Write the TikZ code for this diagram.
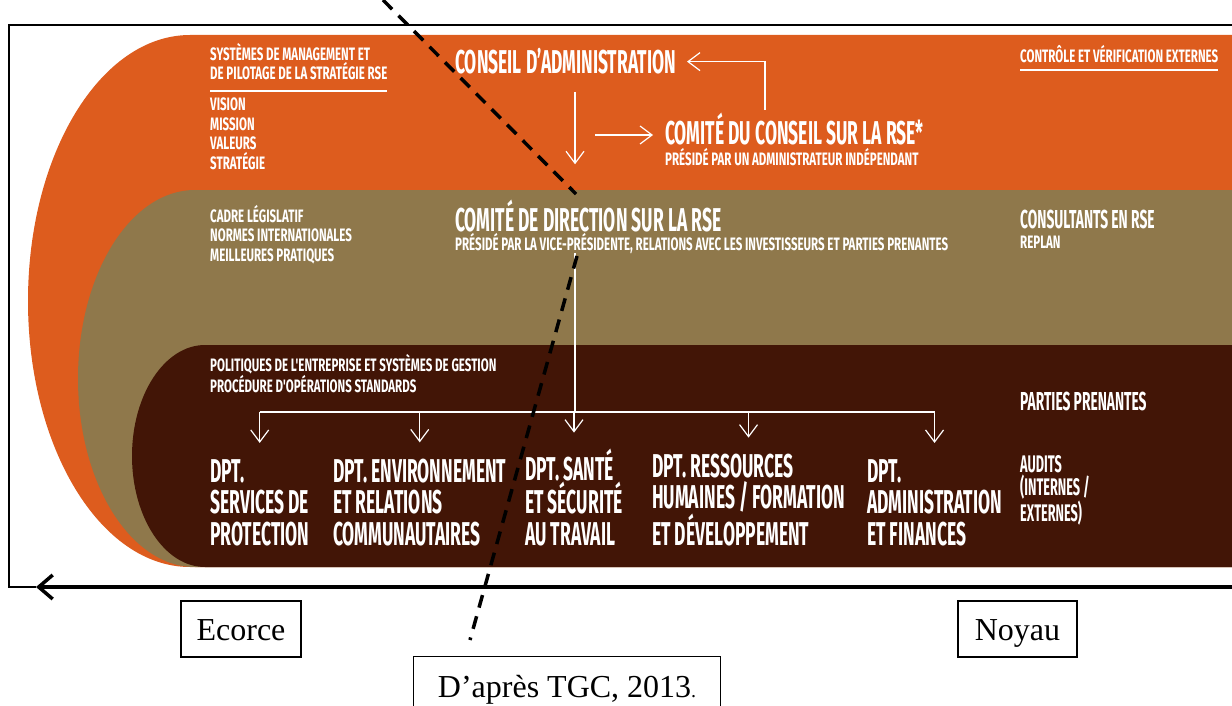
\documentclass[tikz,border=0pt]{standalone}
\usepackage{fontspec}
\setmainfont{Liberation Serif}
\newfontfamily\rsebig[FakeStretch=0.53]{Fira Sans}
\newfontfamily\rsesmall[FakeStretch=0.64]{Fira Sans}
\usetikzlibrary{arrows.meta,positioning,calc}
\definecolor{rseorange}{HTML}{DD5C1E}
\definecolor{rsetan}{HTML}{8F784B}
\definecolor{rsedark}{HTML}{421506}
\newcommand{\petit}{\rsesmall\bfseries\fontsize{18}{19.5}\selectfont}
\newcommand{\moyen}{\rsebig\bfseries\fontsize{26}{23}\selectfont}
\newcommand{\audit}{\rsebig\bfseries\fontsize{24}{23}\selectfont}
\newcommand{\grand}{\rsebig\bfseries\fontsize{33}{31.5}\selectfont}

\begin{document}
\begin{tikzpicture}[x=1pt,y=-1pt,>={Straight Barb[length=12pt,width=18pt]},
  lbl/.style={text=white,inner sep=0pt,anchor=base west,align=left},
  flow/.style={white,line width=1.2pt},
  boite/.style={draw,line width=1.2pt,inner sep=0pt,minimum height=56pt,
    text height=22pt,text depth=0pt,font=\fontsize{32}{32}\selectfont}]
  \clip (0,0) rectangle (1232,706);
  % Bands
  \fill[rseorange] (1240,35) -- (190,35)
    arc[start angle=90,end angle=270,x radius=162pt,y radius=266pt] -- (1240,567) -- cycle;
  \fill[rsetan] (1240,190) -- (195,190)
    arc[start angle=90,end angle=270,x radius=117pt,y radius=188.5pt] -- (1240,567) -- cycle;
  \fill[rsedark] (1240,345) -- (205,345)
    arc[start angle=90,end angle=270,x radius=73pt,y radius=111pt] -- (1240,567) -- cycle;
  % Orange band (multi-line nodes sit on their last baseline)
  \node[lbl,font=\petit] (smgt) at (210,80) {SYSTÈMES DE MANAGEMENT ET\\DE PILOTAGE DE LA STRATÉGIE RSE};
  \draw[white,line width=1.5pt] (210,91) -- (387,91);
  \node[lbl,font=\petit] (vmvs) at (210,169) {VISION\\MISSION\\VALEURS\\STRATÉGIE};
  \node[lbl,font=\grand] (ca) at (455,74) {CONSEIL D’ADMINISTRATION};
  \node[lbl,font=\grand] (ccrse) at (665,145) {COMITÉ DU CONSEIL SUR LA RSE*};
  \node[lbl,font=\petit] (ccsub) at (665,165) {PRÉSIDÉ PAR UN ADMINISTRATEUR INDÉPENDANT};
  \node[lbl,font=\petit] (ctrl) at (1020,63) {CONTRÔLE ET VÉRIFICATION EXTERNES};
  \draw[white,line width=1.5pt] ([yshift=-7pt]ctrl.base west) -- ([yshift=-7pt]ctrl.base east);
  % Tan band
  \node[lbl,font=\petit] (legal) at (210,261) {CADRE LÉGISLATIF\\NORMES INTERNATIONALES\\MEILLEURES PRATIQUES};
  \node[lbl,font=\grand] (cd) at (455,231) {COMITÉ DE DIRECTION SUR LA RSE};
  \node[lbl,font=\petit] (cdsub) at (455,250) {PRÉSIDÉ PAR LA VICE-PRÉSIDENTE, RELATIONS AVEC LES INVESTISSEURS ET PARTIES PRENANTES};
  \node[lbl,font=\moyen] (consult) at (1020,228) {CONSULTANTS EN RSE};
  \node[lbl,font=\petit] (replan) at (1020,248) {REPLAN};
  % Dark band
  \node[lbl,font=\petit] (polit) at (210,392) {POLITIQUES DE L'ENTREPRISE ET SYSTÈMES DE GESTION\\PROCÉDURE D'OPÉRATIONS STANDARDS};
  \node[lbl,font=\moyen] (pp) at (1020,410) {PARTIES PRENANTES};
  \node[lbl,font=\audit] (audits) at (1020,521) {AUDITS\\(INTERNES /\\EXTERNES)};
  \node[lbl,font=\grand] (dept1) at (210,545) {DPT.\\SERVICES DE\\PROTECTION};
  \node[lbl,font=\grand] (dept2) at (333,545) {DPT. ENVIRONNEMENT\\ET RELATIONS\\COMMUNAUTAIRES};
  \node[lbl,font=\grand] (dept3) at (525,545) {DPT. SANTÉ\\ET SÉCURITÉ\\AU TRAVAIL};
  \node[lbl,font=\grand] (dept4) at (652,545) {DPT. RESSOURCES\\HUMAINES / FORMATION\\ET DÉVELOPPEMENT};
  \node[lbl,font=\grand] (dept5) at (867,545) {DPT.\\ADMINISTRATION\\ET FINANCES};
  % Flows
  \coordinate (caout) at (575,92);
  \coordinate (ccin) at (595,135);
  \coordinate (ccret) at (765,110);
  \coordinate (bus) at (575,412);
  \draw[flow,->] (caout) -- ([yshift=35pt]cd.north -| caout);
  \draw[flow,->] (ccin) -- ([xshift=-12pt]ccrse.west |- ccin);
  \draw[flow,->] (ccret) |- ([xshift=11pt]ca.east);
  \draw[flow] (cdsub.south -| bus) -- (bus);
  \draw[flow] (dept1.north |- bus) -- (dept5.north |- bus);
  \foreach \d in {1,...,5}
    \draw[flow,->] (dept\d.north |- bus) -- ([yshift=16pt]dept\d.north);
  % Frame and axis
  \coordinate (axR) at (1240,587);
  \coordinate (axL) at (36,587);
  \draw[line width=1.5pt] (1240,25) -- (9,25) -- (9,587) -- (axL);
  \draw[line width=3.5pt,-{Straight Barb[length=14pt,width=24pt]}] (axR) -- (axL);
  % Dashed cut
  \draw[line width=3.5pt,dash pattern=on 13pt off 9pt] (383,0) -- (576,194);
  \draw[line width=3.5pt,dash pattern=on 13pt off 9pt] (577,256) -- (470,640);
  % Labels
  \node[boite,minimum width=120pt] (ecorce) at (241,629) {Ecorce};
  \node[boite,minimum width=119pt] (noyau) at (1017.5,629) {Noyau};
  \node[draw,line width=1.2pt,anchor=north west,inner sep=0pt,minimum width=307pt,
    text height=41pt,text depth=30pt,font=\fontsize{32}{32}\selectfont] (source) at (413,656)
    {D’après TGC, 2013{\fontsize{20}{20}\selectfont.}};
\end{tikzpicture}
\end{document}
